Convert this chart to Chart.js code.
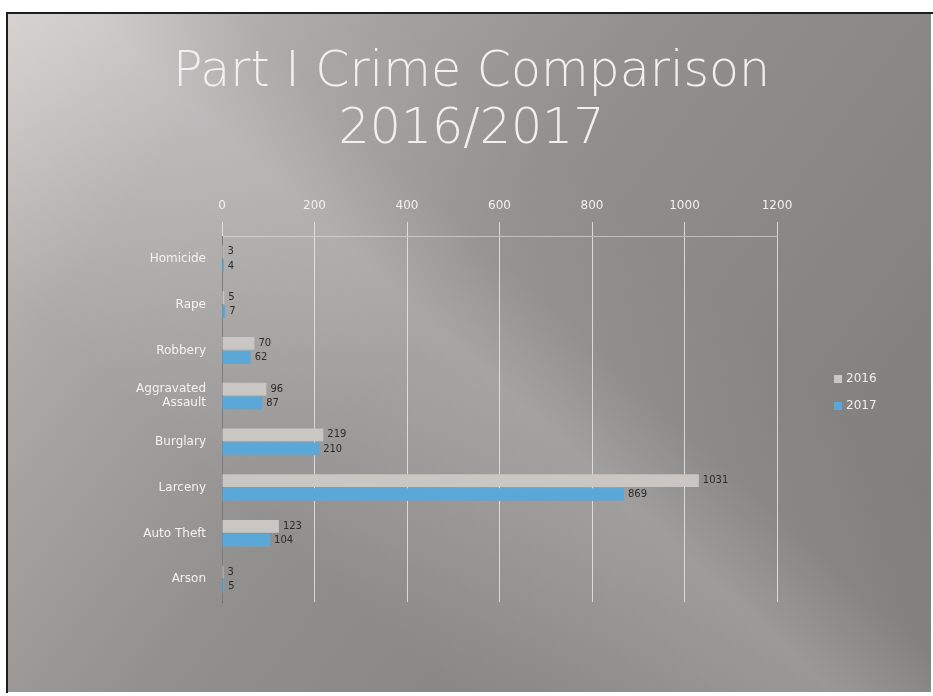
<!DOCTYPE html>
<html>
<head>
<meta charset="utf-8">
<script src="https://cdn.jsdelivr.net/npm/chart.js@4.4.1/dist/chart.umd.min.js"></script>
<style>
  html, body { margin: 0; padding: 0; background: #ffffff; }
  #wrap { width: 933px; height: 696px; position: relative; }
</style>
</head>
<body>
<div id="wrap"><canvas id="c" width="933" height="696"></canvas></div>
<script>
const categories = ["Homicide", "Rape", "Robbery", ["Aggravated", "Assault"], "Burglary", "Larceny", "Auto Theft", "Arson"];
const seriesNames = ["2016", "2017"];
const values2016 = [3, 5, 70, 96, 219, 1031, 123, 3];
const values2017 = [4, 7, 62, 87, 210, 869, 104, 5];
const xTickLabels = ["0", "200", "400", "600", "800", "1000", "1200"];

const colors = ["#c9c6c3", "#5aa8d8"];

const backgroundPlugin = {
  id: 'photoBackground',
  beforeDraw(chart) {
    const ctx = chart.ctx;
    const w = chart.width, h = chart.height;
    ctx.save();
    ctx.fillStyle = '#ffffff';
    ctx.fillRect(0, 0, w, h);
    const g = ctx.createLinearGradient(20, 10, w, h);
    g.addColorStop(0, '#cdc9c9');
    g.addColorStop(0.18, '#aca9a9');
    g.addColorStop(0.45, '#92908f');
    g.addColorStop(0.75, '#868483');
    g.addColorStop(1, '#7e7c7b');
    ctx.fillStyle = g;
    ctx.fillRect(8, 13, w - 10, h - 17);
    const s = ctx.createLinearGradient(150, 420, 470, 70);
    s.addColorStop(0, 'rgba(255,255,255,0)');
    s.addColorStop(0.42, 'rgba(255,255,255,0.16)');
    s.addColorStop(0.55, 'rgba(255,255,255,0.2)');
    s.addColorStop(0.75, 'rgba(255,255,255,0.04)');
    s.addColorStop(1, 'rgba(255,255,255,0)');
    ctx.fillStyle = s;
    ctx.fillRect(8, 13, w - 10, h - 17);
    ctx.strokeStyle = '#1e1e1e';
    ctx.lineWidth = 2;
    ctx.beginPath();
    ctx.moveTo(7, h - 3);
    ctx.lineTo(7, 13);
    ctx.lineTo(w, 13);
    ctx.stroke();
    ctx.restore();
  }
};

const labelsPlugin = {
  id: 'valueLabelsAndLegend',
  afterDatasetsDraw(chart) {
    const ctx = chart.ctx;
    ctx.save();
    ctx.font = '10px "DejaVu Sans", sans-serif';
    ctx.fillStyle = '#2b2b2b';
    ctx.textAlign = 'left';
    ctx.textBaseline = 'middle';
    chart.data.datasets.forEach((ds, di) => {
      const meta = chart.getDatasetMeta(di);
      meta.data.forEach((bar, i) => {
        ctx.fillText(String(ds.data[i]), bar.x + 4, bar.y);
      });
    });
    ctx.font = '12px "DejaVu Sans", sans-serif';
    chart.data.datasets.forEach((ds, di) => {
      const y = 379 + di * 27;
      ctx.fillStyle = ds.backgroundColor;
      ctx.fillRect(834, y - 4, 8, 8);
      ctx.fillStyle = '#eeeeee';
      ctx.fillText(ds.label, 846, y);
    });
    ctx.restore();
  }
};

new Chart(document.getElementById('c'), {
  type: 'bar',
  data: {
    labels: categories,
    datasets: [
      { label: seriesNames[0], data: values2016, backgroundColor: colors[0], borderWidth: 0 },
      { label: seriesNames[1], data: values2017, backgroundColor: colors[1], borderWidth: 0 }
    ]
  },
  plugins: [backgroundPlugin, labelsPlugin],
  options: {
    indexAxis: 'y',
    responsive: false,
    animation: false,
    devicePixelRatio: 1,
    layout: { padding: { top: 10, left: 20, right: 10, bottom: 94 } },
    datasets: { bar: { barPercentage: 0.9, categoryPercentage: 0.62 } },
    plugins: {
      legend: { display: false },
      tooltip: { enabled: false },
      title: {
        display: true,
        text: ["Part I Crime Comparison", "2016/2017"],
        color: '#f0f0f0',
        font: { family: '"DejaVu Sans", sans-serif', size: 49, weight: 200, lineHeight: 1.18 },
        padding: { top: 34, bottom: 0 }
      }
    },
    scales: {
      x: {
        position: 'top',
        min: 0,
        max: 1200,
        afterFit(scale) { scale.height = 76.4; },
        afterBuildTicks(scale) {
          scale.ticks = xTickLabels.map(t => ({ value: Number(t) }));
        },
        ticks: {
          color: '#f0f0f0',
          font: { family: '"DejaVu Sans", sans-serif', size: 12 },
          padding: 9,
          callback: (v, i) => xTickLabels[i]
        },
        grid: { color: 'rgba(235,235,235,0.8)', lineWidth: 1, drawTicks: true, tickLength: 14 },
        border: { color: 'rgba(225,225,225,0.6)' }
      },
      y: {
        afterFit(scale) { scale.width = 202; },
        ticks: {
          color: '#f2f2f2',
          font: { family: '"DejaVu Sans", sans-serif', size: 12 },
          padding: 8
        },
        grid: { display: false },
        border: { color: 'rgba(60,60,60,0.6)' }
      },
      legendSpace: {
        type: 'category',
        axis: 'y',
        position: 'right',
        afterFit(scale) { scale.width = 146; },
        ticks: { display: false },
        grid: { display: false },
        border: { display: false }
      }
    }
  }
});
</script>
</body>
</html>
